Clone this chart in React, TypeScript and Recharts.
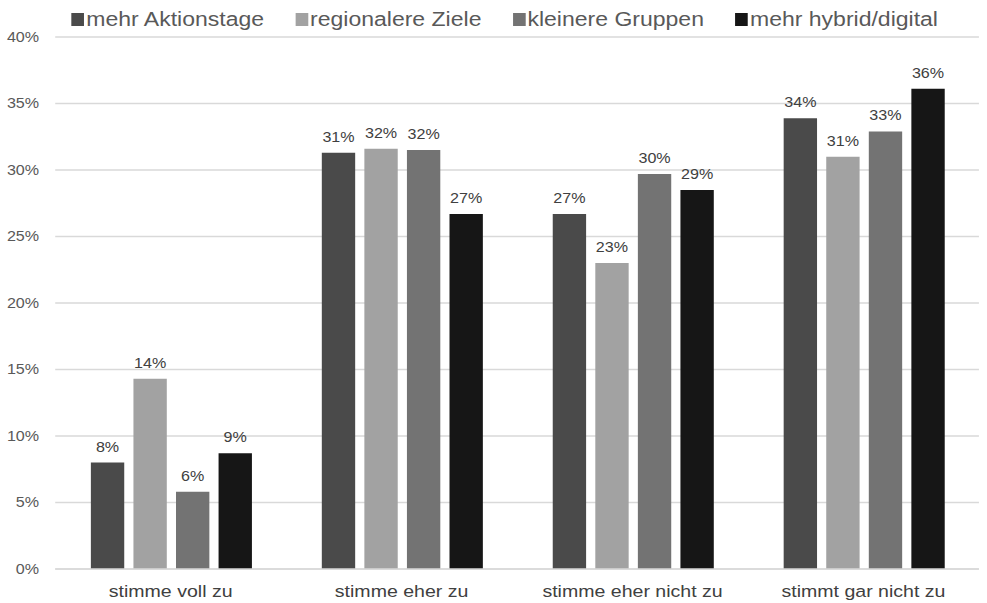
import React from 'react';
import { BarChart, Bar, XAxis, YAxis, CartesianGrid, Legend, LabelList } from 'recharts';

const categories = ['stimme voll zu', 'stimme eher zu', 'stimme eher nicht zu', 'stimmt gar nicht zu'];
const seriesNames = ['mehr Aktionstage', 'regionalere Ziele', 'kleinere Gruppen', 'mehr hybrid/digital'];
const seriesColors = ['#4a4a4a', '#a2a2a2', '#737373', '#161616'];
const mehrAktionstage = [8.0, 31.3, 26.7, 33.9];
const regionalereZiele = [14.3, 31.6, 23.0, 31.0];
const kleinereGruppen = [5.8, 31.5, 29.7, 32.9];
const mehrHybridDigital = [8.7, 26.7, 28.5, 36.1];
const yTicks = [0, 5, 10, 15, 20, 25, 30, 35, 40];

const seriesValues = [mehrAktionstage, regionalereZiele, kleinereGruppen, mehrHybridDigital];
const data = categories.map((c, i) => {
  const row: Record<string, string | number> = { name: c };
  seriesNames.forEach((s, j) => {
    row[s] = seriesValues[j][i];
  });
  return row;
});

const FONT = '"Liberation Sans", Arial, sans-serif';
const W = 858;
const H = 603;

const LegendContent = () => (
  <div
    style={{
      height: 37,
      boxSizing: 'border-box',
      paddingTop: 12,
      paddingLeft: 62,
      display: 'flex',
      alignItems: 'flex-start',
      fontFamily: FONT,
      fontSize: 20,
      lineHeight: '14px',
      color: '#595959',
      whiteSpace: 'nowrap',
    }}
  >
    {seriesNames.map((s, i) => (
      <div key={s} style={{ display: 'flex', alignItems: 'center', marginRight: 27, height: 14 }}>
        <span style={{ display: 'inline-block', width: 11, height: 13, background: seriesColors[i], marginRight: 2 }} />
        <span>{s}</span>
      </div>
    ))}
  </div>
);

export default function App() {
  return (
    <div
      style={{
        position: 'absolute',
        left: 0,
        top: 0,
        width: W,
        height: H,
        background: '#fff',
        transform: `scaleX(${987 / W})`,
        transformOrigin: '0 0',
      }}
    >
      <BarChart
        width={W}
        height={H}
        data={data}
        margin={{ top: 0, right: 7, bottom: 4, left: 0 }}
        barGap={8}
        barCategoryGap={31}
        style={{ fontFamily: FONT }}
      >
        <CartesianGrid vertical={false} stroke="#d9d9d9" strokeWidth={1.3} />
        <XAxis
          dataKey="name"
          axisLine={{ stroke: '#d9d9d9', strokeWidth: 1.3 }}
          tickLine={false}
          tickMargin={10}
          height={30}
          interval={0}
          tick={{ fontSize: 17, fill: '#404040', fontFamily: FONT }}
        />
        <YAxis
          width={48}
          domain={[0, 40]}
          ticks={yTicks}
          axisLine={false}
          tickLine={false}
          tickMargin={8}
          tickFormatter={(v: number) => `${v}%`}
          tick={{ fontSize: 14, fill: '#595959', fontFamily: FONT }}
        />
        <Legend
          verticalAlign="top"
          align="left"
          content={LegendContent}
          wrapperStyle={{ top: 0, left: 0, width: W }}
        />
        {seriesNames.map((s, i) => (
          <Bar key={s} dataKey={s} fill={seriesColors[i]} isAnimationActive={false}>
            <LabelList
              dataKey={s}
              position="top"
              offset={11}
              formatter={(v: number) => `${Math.round(v)}%`}
              style={{ fontSize: 14, fill: '#404040', fontFamily: FONT }}
            />
          </Bar>
        ))}
      </BarChart>
    </div>
  );
}
